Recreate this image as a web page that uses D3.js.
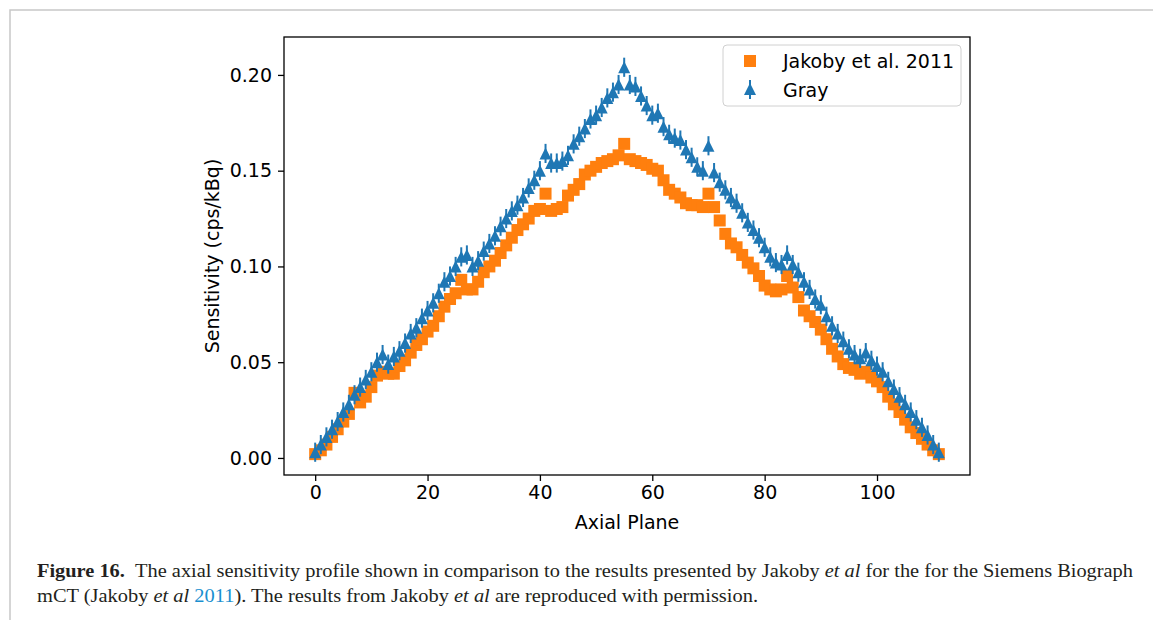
<!DOCTYPE html>
<html>
<head>
<meta charset="utf-8">
<script src="https://cdn.jsdelivr.net/npm/d3@7"></script>
<style>
  body { margin: 0; background: #fff; }
  svg { display: block; }
</style>
</head>
<body>
<div id="chart"></div>
<script>
// --- data ---
const planes = d3.range(0, 112);

const jakoby = [
  0.002, 0.004, 0.007, 0.011, 0.015, 0.019, 0.023, 0.034, 0.029, 0.032,
  0.037, 0.043, 0.045, 0.044, 0.044, 0.048, 0.051, 0.055, 0.059, 0.062,
  0.066, 0.069, 0.074, 0.079, 0.083, 0.086, 0.093, 0.088, 0.088, 0.092,
  0.097, 0.100, 0.103, 0.107, 0.111, 0.115, 0.119, 0.122, 0.125, 0.129,
  0.130, 0.138, 0.129, 0.130, 0.131, 0.137, 0.140, 0.143, 0.148, 0.150,
  0.152, 0.154, 0.155, 0.156, 0.158, 0.164, 0.156, 0.155, 0.154, 0.153,
  0.151, 0.150, 0.145, 0.140, 0.138, 0.136, 0.133, 0.132, 0.132, 0.131,
  0.138, 0.131, 0.124, 0.117, 0.112, 0.110, 0.106, 0.102, 0.099, 0.095,
  0.090, 0.088, 0.087, 0.088, 0.095, 0.089, 0.084, 0.077, 0.074, 0.071,
  0.067, 0.062, 0.057, 0.053, 0.049, 0.047, 0.046, 0.044, 0.045, 0.042,
  0.040, 0.037, 0.032, 0.028, 0.024, 0.020, 0.016, 0.013, 0.010, 0.007,
  0.004, 0.002
];

const gray = [
  0.003, 0.007, 0.011, 0.015, 0.019, 0.024, 0.028, 0.033, 0.037, 0.041,
  0.045, 0.050, 0.054, 0.049, 0.053, 0.056, 0.060, 0.065, 0.068, 0.073,
  0.077, 0.081, 0.086, 0.092, 0.095, 0.100, 0.105, 0.106, 0.100, 0.103,
  0.108, 0.112, 0.116, 0.121, 0.125, 0.129, 0.132, 0.136, 0.141, 0.145,
  0.150, 0.159, 0.154, 0.154, 0.155, 0.158, 0.164, 0.168, 0.172, 0.177,
  0.179, 0.183, 0.188, 0.191, 0.195, 0.204, 0.195, 0.194, 0.189, 0.184,
  0.179, 0.180, 0.173, 0.169, 0.167, 0.166, 0.161, 0.157, 0.152, 0.150,
  0.163, 0.149, 0.144, 0.140, 0.136, 0.133, 0.128, 0.123, 0.119, 0.115,
  0.110, 0.105, 0.102, 0.101, 0.106, 0.101, 0.097, 0.092, 0.088, 0.083,
  0.080, 0.074, 0.069, 0.065, 0.061, 0.057, 0.054, 0.052, 0.055, 0.051,
  0.048, 0.045, 0.040, 0.036, 0.032, 0.028, 0.024, 0.020, 0.016, 0.012,
  0.007, 0.003
];
const grayErr = 0.005;

const xTicks = [0, 20, 40, 60, 80, 100];
const yTicks = [0.00, 0.05, 0.10, 0.15, 0.20];
const seriesNames = ["Jakoby et al. 2011", "Gray"];

// --- layout ---
const width = 1153, height = 620;
const plot = { left: 284, right: 970, top: 37, bottom: 475 };
const orange = "#ff7f0e", blue = "#1f77b4";

const svg = d3.select("#chart").append("svg")
  .attr("width", width)
  .attr("height", height);

// page frame
svg.append("path")
  .attr("d", `M10,${height} L10,10 L${width},10`)
  .attr("fill", "none")
  .attr("stroke", "#c8c8c8")
  .attr("stroke-width", 1.5);

const x = d3.scaleLinear().domain([-5.55, 116.55]).range([plot.left, plot.right]);
const y = d3.scaleLinear().domain([-0.0089, 0.2198]).range([plot.bottom, plot.top]);

const font = "'DejaVu Sans', sans-serif";
const fs = "19px";

// axes
const xAxis = svg.append("g")
  .attr("transform", `translate(0,${plot.bottom})`)
  .call(d3.axisBottom(x).tickValues(xTicks).tickFormat(d3.format("d")).tickSize(6).tickPadding(5));
const yAxis = svg.append("g")
  .attr("transform", `translate(${plot.left},0)`)
  .call(d3.axisLeft(y).tickValues(yTicks).tickFormat(d3.format(".2f")).tickSize(6).tickPadding(6));

[xAxis, yAxis].forEach(a => {
  a.select(".domain").remove();
  a.selectAll(".tick line").attr("stroke", "#000").attr("stroke-width", 1.3);
  a.selectAll(".tick text").attr("fill", "#000").style("font-family", font).style("font-size", fs);
});

// Jakoby squares
const sq = 12;
svg.append("g")
  .selectAll("rect")
  .data(planes)
  .enter()
  .append("rect")
  .attr("x", i => x(i) - sq / 2)
  .attr("y", i => y(jakoby[i]) - sq / 2)
  .attr("width", sq)
  .attr("height", sq)
  .attr("fill", orange);

// Gray error bars
svg.append("g")
  .selectAll("line")
  .data(planes)
  .enter()
  .append("line")
  .attr("x1", i => x(i))
  .attr("x2", i => x(i))
  .attr("y1", i => y(gray[i] - grayErr))
  .attr("y2", i => y(gray[i] + grayErr))
  .attr("stroke", blue)
  .attr("stroke-width", 2);

// Gray triangles
const tri = "M0,-6L6,6L-6,6Z";
svg.append("g")
  .selectAll("path")
  .data(planes)
  .enter()
  .append("path")
  .attr("d", tri)
  .attr("transform", i => `translate(${x(i)},${y(gray[i])})`)
  .attr("fill", blue);

// frame of the axes
svg.append("rect")
  .attr("x", plot.left).attr("y", plot.top)
  .attr("width", plot.right - plot.left).attr("height", plot.bottom - plot.top)
  .attr("fill", "none")
  .attr("stroke", "#000")
  .attr("stroke-width", 1.3);

// axis labels
svg.append("text")
  .attr("x", (plot.left + plot.right) / 2).attr("y", 529)
  .attr("text-anchor", "middle")
  .style("font-family", font).style("font-size", fs)
  .text("Axial Plane");

svg.append("text")
  .attr("transform", `translate(219,${(plot.top + plot.bottom) / 2}) rotate(-90)`)
  .attr("text-anchor", "middle")
  .style("font-family", font).style("font-size", fs)
  .text("Sensitivity (cps/kBq)");

// legend
const lg = svg.append("g");
lg.append("rect")
  .attr("x", 723).attr("y", 45)
  .attr("width", 238).attr("height", 61)
  .attr("rx", 4)
  .attr("fill", "#fff").attr("fill-opacity", 0.8)
  .attr("stroke", "#d0d0d0");
lg.append("rect")
  .attr("x", 744).attr("y", 55).attr("width", sq).attr("height", sq)
  .attr("fill", orange);
lg.append("line")
  .attr("x1", 750).attr("x2", 750).attr("y1", 80).attr("y2", 99)
  .attr("stroke", blue).attr("stroke-width", 2);
lg.append("path")
  .attr("d", tri)
  .attr("transform", "translate(750,89)")
  .attr("fill", blue);
lg.selectAll("text.lab")
  .data(seriesNames)
  .enter()
  .append("text")
  .attr("class", "lab")
  .attr("x", 783)
  .attr("y", (d, i) => 68 + i * 29)
  .style("font-family", font).style("font-size", fs)
  .text(d => d);

// caption
const cap = svg.append("g")
  .style("font-family", "'Liberation Serif', 'DejaVu Serif', serif")
  .style("font-size", "19px")
  .attr("fill", "#231f20");
const l1 = cap.append("text").attr("x", 37).attr("y", 577)
  .attr("textLength", 1096).attr("lengthAdjust", "spacingAndGlyphs");
l1.append("tspan").attr("font-weight", "bold").text("Figure 16.");
l1.append("tspan").text("\u2002The axial sensitivity profile shown in comparison to the results presented by Jakoby ");
l1.append("tspan").attr("font-style", "italic").text("et al");
l1.append("tspan").text(" for the for the Siemens Biograph");

const l2 = cap.append("text").attr("x", 37).attr("y", 602)
  .attr("textLength", 721).attr("lengthAdjust", "spacingAndGlyphs");
l2.append("tspan").text("mCT (Jakoby ");
l2.append("tspan").attr("font-style", "italic").text("et al");
l2.append("tspan").text(" ");
l2.append("tspan").attr("fill", "#1a8fd0").text("2011");
l2.append("tspan").text("). The results from Jakoby ");
l2.append("tspan").attr("font-style", "italic").text("et al");
l2.append("tspan").text(" are reproduced with permission.");
</script>
</body>
</html>
